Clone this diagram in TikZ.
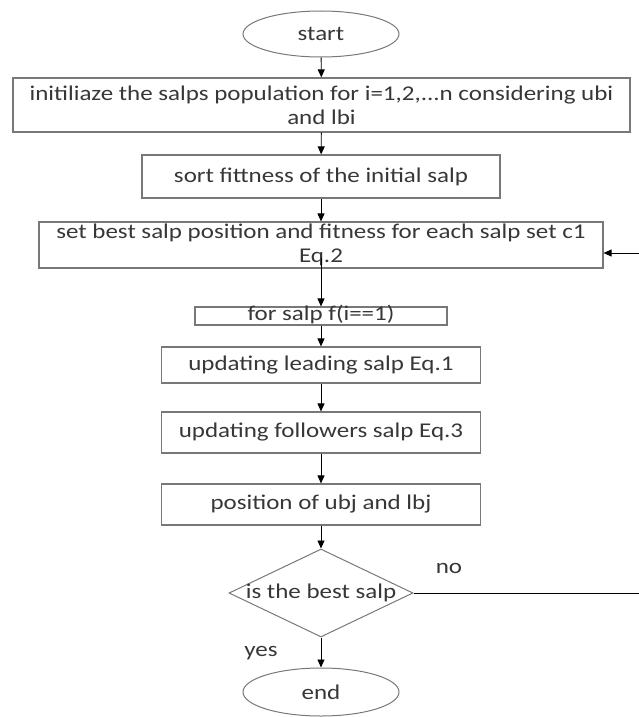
\documentclass[tikz,border=0pt]{standalone}
\usepackage{fontspec}
\setmainfont{Carlito}[FakeStretch=1.19]
\usetikzlibrary{shapes.geometric,arrows.meta}
\definecolor{boxline}{RGB}{120,120,120}
\definecolor{txt}{RGB}{55,55,55}
\tikzset{
  procbox/.style={draw=boxline, line width=1.2pt, rectangle, align=center, inner sep=0pt, text=txt},
  termnode/.style={draw=boxline, line width=1pt, ellipse, minimum width=156pt, minimum height=46pt, inner sep=0pt, text=txt},
  decnode/.style={draw=boxline, line width=1pt, diamond, minimum width=184pt, minimum height=88pt, inner sep=0pt},
  flow/.style={-{Triangle[length=8pt,width=7pt]}, line width=0.9pt},
  lbl/.style={text=txt, inner sep=0pt}
}
\begin{document}
\begin{tikzpicture}[x=1pt,y=1pt,font=\fontsize{21pt}{24pt}\selectfont]
		\useasboundingbox (0,0) rectangle (638,-717);
		% terminals and steps
		\node[termnode] (start) at (321,-34) {start};
		\node[procbox, minimum width=617pt, minimum height=54pt] (init) at (321.5,-105) {initiliaze the salps population for i=1,2,...n considering ubi\\and lbi};
		\node[procbox, minimum width=358pt, minimum height=43pt] (sort) at (321,-176.5) {sort fittness of the initial salp};
		\node[procbox, minimum width=564pt, minimum height=46pt] (best) at (321,-245) {set best salp position and fitness for each salp set c1\\Eq.2};
		\node[procbox, minimum width=252pt, minimum height=18pt, text height=12pt, text depth=3pt] (forsalp) at (321,-316) {for salp f(i==1)};
		\node[procbox, minimum width=319pt, minimum height=36pt] (lead) at (321,-365) {updating leading salp Eq.1};
		\node[procbox, minimum width=319pt, minimum height=41pt] (follow) at (321,-432.5) {updating followers salp Eq.3};
		\node[procbox, minimum width=319pt, minimum height=41pt] (pos) at (321,-504.5) {position of ubj and lbj};
		\node[decnode, label={[text=txt]center:is the best salp}] (dec) at (321,-593) {};
		\node[termnode, minimum height=48pt] (end) at (321,-692) {end};
		\node[lbl] (no) at (449,-568) {no};
		\node[lbl] (yes) at (261,-653) {yes};
		\coordinate (loop) at (641,-253);
		% connectors
		\draw[flow] (start) -- (init);
		\draw[flow] (init) -- (sort);
		\draw[flow] (sort) -- (best);
		\draw[flow] ([yshift=11pt]best.south) -- (forsalp);
		\draw[flow] (forsalp) -- (lead);
		\draw[flow] (lead) -- (follow);
		\draw[flow] (follow) -- (pos);
		\draw[flow] (pos) -- (dec);
		\draw[flow] (dec) -- (end);
		\draw[flow] (dec.east) -| (loop) -- (loop -| best.east);
\end{tikzpicture}
\end{document}
